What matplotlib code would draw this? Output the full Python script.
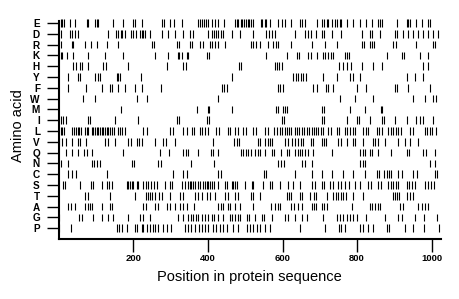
import matplotlib
matplotlib.use("Agg")
import matplotlib.pyplot as plt

plt.rcParams['font.family'] = ['Liberation Sans', 'DejaVu Sans']

# residue positions, one list per amino acid (top row first)
pos_E = [6, 10, 15, 30, 44, 75, 79, 97, 102, 106, 146, 173, 200, 204, 222, 276, 283, 298, 310, 331,
         374, 379, 385, 390, 394, 399, 410, 419, 426, 444, 472, 477, 481, 488, 492, 497, 502, 507, 510,
         515, 520, 542, 546, 553, 557, 566, 589, 598, 607, 623, 647, 653, 660, 693, 705, 711, 718, 723,
         732, 741, 745, 754, 758, 772, 790, 807, 825, 839, 857, 861, 866, 906, 933, 937, 942, 959, 973,
         991, 995]
pos_D = [6, 30, 36, 44, 51, 133, 154, 160, 166, 170, 178, 194, 200, 206, 218, 222, 227, 231, 245, 276,
         294, 312, 334, 352, 361, 401, 410, 416, 422, 428, 434, 441, 464, 486, 522, 557, 564, 572, 580,
         633, 660, 667, 676, 690, 705, 711, 732, 758, 812, 834, 841, 861, 901, 907, 924, 937, 950, 964,
         977, 991, 1004, 1017]
pos_R = [6, 35, 39, 70, 87, 102, 129, 158, 249, 256, 316, 322, 352, 358, 379, 388, 406, 412, 419, 428,
         446, 515, 522, 528, 539, 562, 575, 582, 589, 623, 678, 714, 745, 812, 818, 834, 839, 845, 897,
         904, 959, 1004, 1008]
pos_K = [5, 10, 21, 39, 79, 124, 173, 258, 294, 319, 323, 331, 343, 347, 397, 403, 557, 611, 638, 644,
         669, 676, 693, 709, 714, 723, 729, 735, 767, 774, 779, 879, 919, 925, 968, 991]
pos_H = [39, 46, 57, 63, 79, 120, 126, 187, 289, 334, 340, 483, 489, 580, 584, 591, 598, 752, 761, 772,
         783, 812, 842, 868, 977, 989]
pos_Y = [24, 53, 57, 97, 105, 111, 155, 160, 164, 221, 465, 629, 635, 642, 649, 656, 663, 709, 745, 781,
         788, 807, 933, 955, 977]
pos_F = [24, 72, 115, 137, 142, 160, 178, 204, 224, 274, 437, 444, 450, 589, 593, 602, 681, 693, 716,
         723, 736, 799, 825, 901, 907, 937, 995]
pos_W = [66, 97, 209, 236, 428, 754, 794, 843, 950, 982, 1004, 1011]
pos_M = [167, 370, 399, 403, 464, 582, 589, 602, 607, 611, 705, 711, 781, 821, 863, 868]
pos_I = [6, 12, 19, 79, 84, 151, 212, 316, 322, 397, 403, 598, 605, 705, 711, 772, 799, 806, 834, 866,
         872, 901, 933, 959, 968, 977, 1004]
pos_L = [6, 10, 15, 35, 42, 46, 51, 54, 60, 70, 75, 79, 88, 93, 97, 102, 106, 111, 115, 120, 124, 129,
         133, 137, 144, 149, 160, 164, 169, 178, 227, 236, 298, 307, 334, 343, 358, 363, 379, 385, 392,
         399, 423, 430, 453, 459, 472, 480, 495, 501, 522, 528, 553, 560, 578, 584, 593, 598, 607, 611,
         617, 624, 633, 638, 644, 651, 658, 665, 671, 678, 684, 690, 696, 702, 708, 723, 729, 745, 752,
         767, 774, 781, 788, 794, 816, 824, 830, 852, 859, 866, 883, 890, 897, 904, 910, 917, 941, 949,
         982, 988, 995, 1002, 1011]
pos_V = [1, 10, 19, 35, 51, 56, 72, 124, 131, 151, 187, 194, 209, 215, 224, 258, 280, 287, 312, 414,
         471, 477, 483, 533, 539, 553, 560, 566, 572, 607, 614, 626, 633, 642, 649, 656, 676, 682, 705,
         711, 716, 749, 758, 774, 789, 795, 816, 842, 848, 857, 875, 910, 928, 942, 964]
pos_Q = [19, 35, 51, 69, 75, 90, 173, 271, 296, 334, 340, 346, 374, 408, 414, 428, 489, 495, 501, 508,
         515, 526, 533, 539, 553, 571, 578, 596, 611, 617, 633, 641, 647, 653, 660, 667, 682, 732, 807,
         815, 821, 834, 841, 857, 892, 933, 940, 977, 985, 1008]
pos_N = [6, 26, 88, 95, 102, 111, 196, 203, 267, 274, 356, 417, 589, 596, 605, 651, 660, 678, 807, 815,
         821, 995, 1008]
pos_C = [26, 35, 46, 130, 307, 334, 343, 428, 435, 551, 557, 633, 678, 705, 732, 763, 790, 821, 852,
         859, 872, 879, 886, 892, 910, 919, 950, 961, 1008, 1015]
pos_S = [12, 17, 57, 87, 93, 115, 129, 135, 144, 182, 187, 191, 196, 200, 209, 213, 227, 233, 240, 247,
         256, 263, 285, 298, 304, 330, 338, 347, 352, 356, 361, 365, 374, 379, 388, 392, 397, 401, 406,
         410, 417, 428, 446, 450, 464, 468, 472, 477, 499, 517, 522, 548, 566, 572, 593, 615, 628, 647,
         679, 687, 706, 711, 727, 735, 749, 756, 767, 778, 794, 807, 829, 836, 856, 864, 882, 890, 897,
         904, 910, 933, 939, 947, 955, 982, 990, 997, 1005]
pos_T = [70, 78, 137, 204, 233, 239, 245, 251, 258, 269, 276, 298, 325, 334, 365, 374, 383, 397, 406,
         419, 446, 453, 472, 480, 515, 522, 539, 611, 617, 624, 647, 653, 673, 684, 690, 718, 736, 743,
         749, 756, 763, 770, 790, 815, 895, 901, 908, 913, 933, 943, 949]
pos_A = [26, 33, 44, 70, 78, 84, 90, 115, 137, 144, 227, 233, 258, 267, 289, 298, 312, 325, 334, 343,
         363, 428, 435, 441, 453, 459, 472, 486, 522, 569, 580, 587, 593, 624, 631, 642, 651, 678, 684,
         690, 705, 711, 718, 785, 834, 841, 848, 855, 861, 915, 922, 964, 973, 982, 991]
pos_G = [2, 55, 62, 93, 115, 133, 146, 187, 218, 225, 245, 321, 334, 346, 355, 361, 367, 374, 383, 392,
         399, 410, 417, 428, 441, 459, 465, 472, 480, 486, 504, 510, 526, 544, 551, 571, 607, 614, 633,
         651, 665, 709, 745, 754, 763, 772, 781, 790, 799, 825, 875, 910, 919, 955, 979, 1013]
pos_P = [2, 32, 155, 162, 169, 182, 204, 211, 222, 227, 236, 245, 252, 258, 267, 279, 289, 300, 338,
         347, 356, 365, 377, 383, 392, 401, 414, 423, 432, 441, 450, 468, 481, 504, 513, 522, 531, 539,
         553, 566, 647, 714, 752, 758, 767, 807, 815, 830, 842, 881, 886, 928, 950, 979, 1020]

amino_acids = ['E', 'D', 'R', 'K', 'H', 'Y', 'F', 'W', 'M', 'I',
               'L', 'V', 'Q', 'N', 'C', 'S', 'T', 'A', 'G', 'P']
rows = [pos_E, pos_D, pos_R, pos_K, pos_H, pos_Y, pos_F, pos_W, pos_M, pos_I,
        pos_L, pos_V, pos_Q, pos_N, pos_C, pos_S, pos_T, pos_A, pos_G, pos_P]
x_ticks = [200, 400, 600, 800, 1000]
seq_len = 1024

fig = plt.figure(figsize=(4.6, 2.99), dpi=100)
ax = fig.add_axes([0.1276, 0.2007, 0.8304, 0.7585])

n = len(amino_acids)
for i, (aa, xs) in enumerate(zip(amino_acids, rows)):
    y = n - 1 - i
    ax.vlines(xs, y - 0.36, y + 0.36, color='black', linewidth=0.8)

ax.set_xlim(0, seq_len)
ax.set_ylim(-1, n)
ax.set_yticks(range(n))
ax.set_yticklabels(amino_acids[::-1], fontsize=7.2, fontweight='bold')
ax.set_xticks(x_ticks)
ax.set_xticklabels([str(t) for t in x_ticks], fontsize=6.8, fontweight='bold')
ax.tick_params(axis='y', length=9, width=1.0, pad=4.5)
ax.tick_params(axis='x', length=9, width=1.0, pad=2)

for s in ['top', 'right']:
    ax.spines[s].set_visible(False)
ax.spines['left'].set_linewidth(1.5)
ax.spines['bottom'].set_linewidth(1.5)
ax.spines['left'].set_bounds(-1, n - 0.8)

ax.set_xlabel("Position in protein sequence", fontsize=10.5)
ax.set_ylabel("Amino acid", fontsize=10.5, va='center')
ax.xaxis.set_label_coords(0.5, -0.135)
ax.yaxis.set_label_coords(-0.107, 0.5)

fig.savefig("out.png", dpi=100)
